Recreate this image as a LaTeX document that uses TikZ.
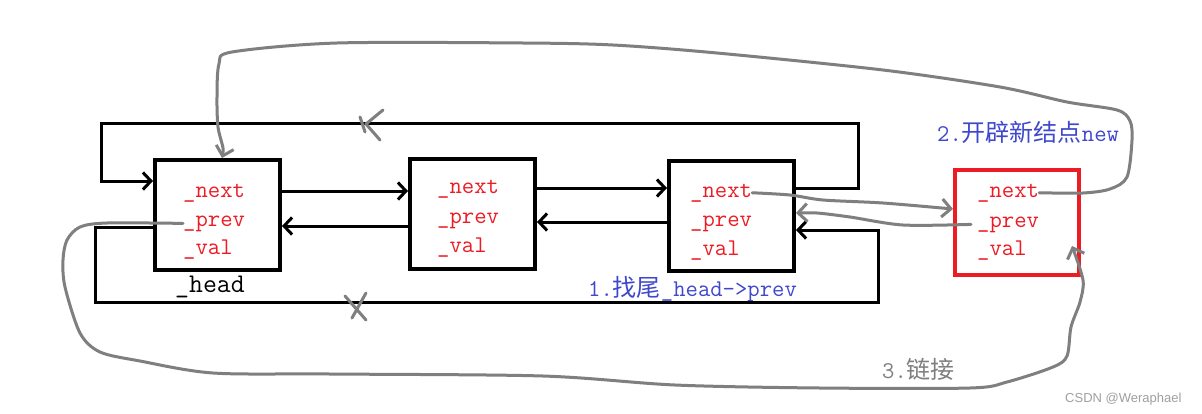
\documentclass[tikz,border=0pt]{standalone}
\usepackage{fontspec}
\newfontfamily\cjkfont{Noto Sans CJK SC}
\newfontfamily\wmfont{Liberation Sans}
\usetikzlibrary{arrows.meta}
\definecolor{pred}{HTML}{ED1C24}
\definecolor{pblue}{HTML}{3F48CC}
\definecolor{pgray}{HTML}{7F7F7F}
\definecolor{wmgray}{HTML}{A0A0A0}
\begin{document}
\begin{tikzpicture}[x=1pt,y=-1pt,
  nodebox/.style={draw, line width=4pt, minimum width=125pt, minimum height=110pt, inner sep=0pt},
  newbox/.style={nodebox, draw=pred, minimum width=124pt, minimum height=105pt},
  field/.style={anchor=base west, inner sep=0pt, text=pred, font=\fontsize{24}{24}\selectfont\ttfamily},
  note/.style={anchor=base west, inner sep=0pt, font=\fontsize{24}{24}\selectfont\ttfamily},
  link/.style={line width=3pt, line join=miter},
  arr/.style={-{Straight Barb[length=8pt,width=17pt]}},
  hand/.style={draw=pgray, line width=3pt, line cap=round, line join=round},
  harr/.style={-{Straight Barb[length=9pt,width=18pt]}}]
\fill[white] (0,0) rectangle (1202,413);
\useasboundingbox (0,0) rectangle (1202,413);

% boxes
\node[nodebox] (head) at (217.5,215) {};
\node[nodebox] (n2) at (472.5,214) {};
\node[nodebox] (n3) at (731.5,216) {};
\node[newbox] (nw) at (1017,222.5) {};

% fields
\node[field] (hnext) at (183,197) {\_next};
\node[field] (hprev) at (183,226) {\_prev};
\node[field] (hval)  at (183,254) {\_val};
\node[field] (bnext) at (437,193) {\_next};
\node[field] (bprev) at (437,223) {\_prev};
\node[field] (bval)  at (437,252) {\_val};
\node[field] (cnext) at (690,197) {\_next};
\node[field] (cprev) at (690,226) {\_prev};
\node[field] (cval)  at (690,255) {\_val};
\node[field] (wnext) at (977,197) {\_next};
\node[field] (wprev) at (977,227) {\_prev};
\node[field] (wval)  at (977,255) {\_val};

% labels
\node[note, font=\fontsize{27}{27}\selectfont\ttfamily] (hlabel) at (175,292) {\_head};
\node[note, text=pblue] (step1) at (588,296) {1.{\cjkfont 找尾}\_head->prev};
\node[note, text=pblue] (step2) at (937,141) {2.{\cjkfont 开辟新结点}new};
\node[note, text=pgray] (step3) at (882,378) {3.{\cjkfont 链接}};
\node[anchor=base west, inner sep=0pt, text=wmgray, font=\fontsize{13}{13}\selectfont\wmfont] (wm) at (1065,402) {CSDN @Weraphael};

% black links
\draw[link, arr] (head.east |- 0,191) -- (n2.west |- 0,191);
\draw[link, arr] (n2.west |- 0,226) -- (head.east |- 0,226);
\draw[link, arr] (n2.east |- 0,188) -- (n3.west |- 0,188);
\draw[link, arr] (n3.west |- 0,222) -- (n2.east |- 0,222);
\draw[link, arr] (n3.east |- 0,188) -| (858,123) -| (101,181) -- (head.west |- 0,181);
\draw[link, arr] (head.west |- 0,227) -| (95,302) -| (878,230) -- (n3.east |- 0,230);

% crossed-out marks
\draw[hand] (383,110) -- (366,124) -- (380,140);
\draw[hand] (360,117) -- (365,132);
\draw[hand] (345,296) -- (366,320);
\draw[hand] (366,293) -- (352,318);

% gray hand-drawn links
\draw[hand, harr] plot[smooth, tension=0.5] coordinates {(cnext.east) (790,195) (823,200) (883,203) (nw.west |- 0,209)};
\draw[hand, harr] plot[smooth, tension=0.5] coordinates {([xshift=-6pt]wprev.west) (903,225) (850,217) (817,213) (n3.east |- 0,213)};
\draw[hand, harr] plot[smooth, tension=0.5] coordinates {(wnext.east) (1083,193) (1110,189) (1127,177) (1132,140) (1130,121) (1117,110) (1067,102) (1000,87) (883,70) (717,53) (613,45) (523,43) (337,43) (232,52) (219,64) (217,97) (218,127) (223,148) (head.north -| 222,0)};
\coordinate (valin) at (1072,246);
\draw[hand, harr] plot[smooth, tension=0.5] coordinates {(hprev.west) (107,223) (80,227) (67,240) (63,260) (65,287) (80,333) (100,352) (140,361) (213,373) (330,374) (543,376) (675,385) (820,388) (970,388) (1007,382) (1053,367) (1067,356) (1071,327) (1080,302) (1083,280) (valin)};
\end{tikzpicture}
\end{document}
